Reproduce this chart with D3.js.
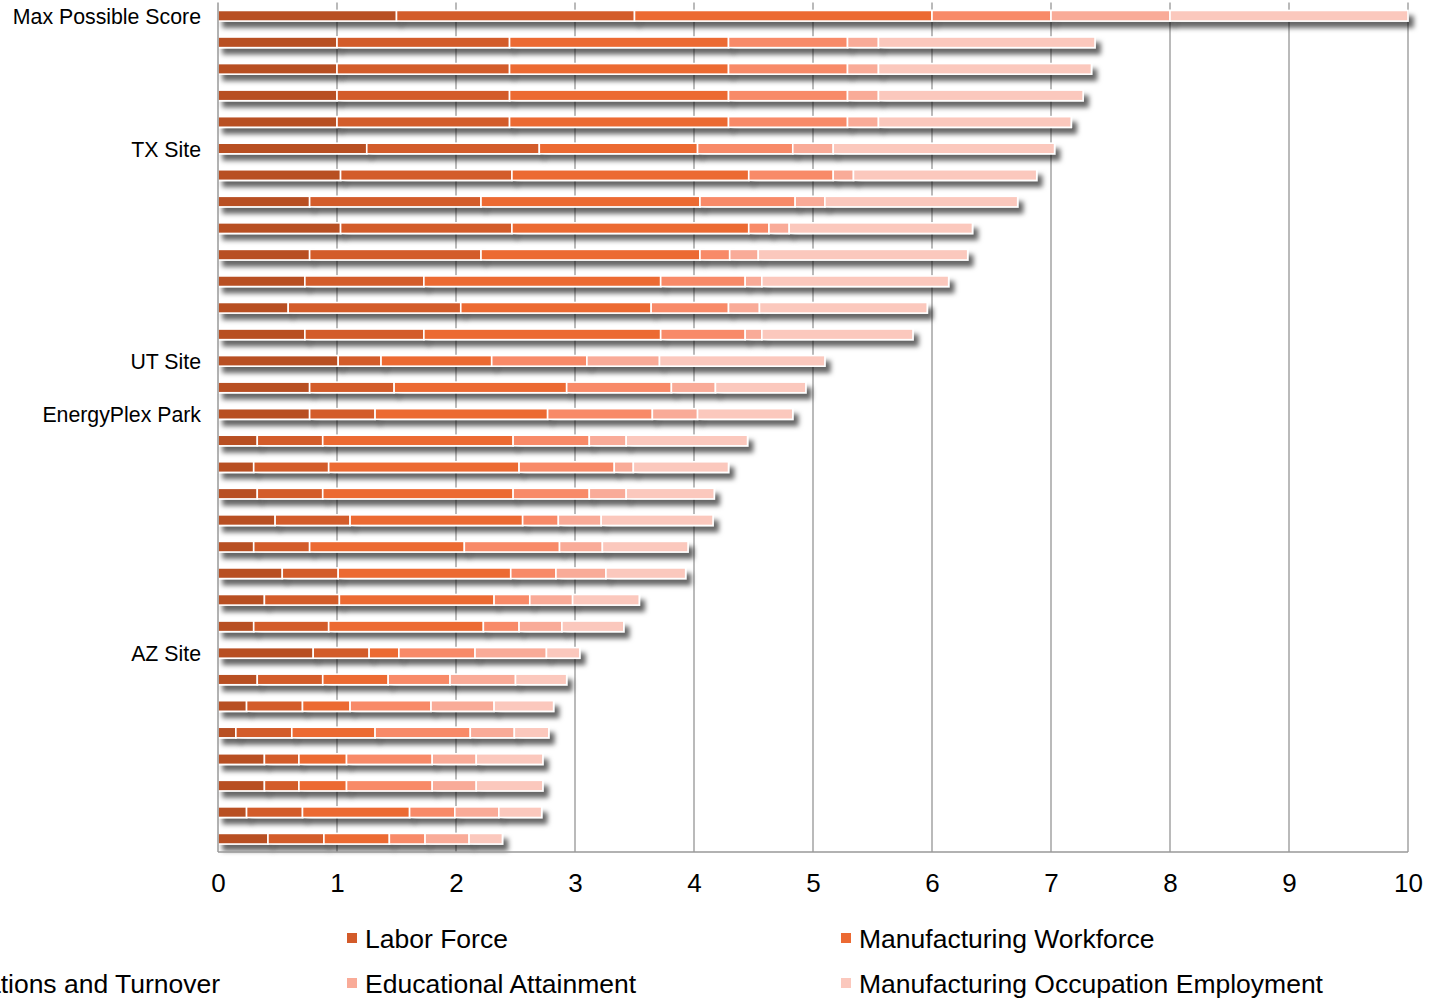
<!DOCTYPE html>
<html>
<head>
<meta charset="utf-8">
<script src="https://cdn.jsdelivr.net/npm/d3@7"></script>
<style>
  html, body { margin: 0; padding: 0; background: #fff; }
  svg { display: block; font-family: "Liberation Sans", Arial, Helvetica, sans-serif; }
</style>
</head>
<body>
<svg id="chart" width="1438" height="998"></svg>
<script>
// Site scores, one row per candidate site (top row is the maximum attainable score)
const categories = [
  "Max Possible Score", "", "", "", "", "TX Site", "", "", "", "", "", "", "",
  "UT Site", "", "EnergyPlex Park", "", "", "", "", "", "", "", "",
  "AZ Site", "", "", "", "", "", "", ""
];

const seriesNames = [
  "Wages",
  "Labor Force",
  "Manufacturing Workforce",
  "Labor Relations and Turnover",
  "Educational Attainment",
  "Manufacturing Occupation Employment"
];

const wages = [1.5, 1.0, 1.0, 1.0, 1.0, 1.25, 1.03, 0.77, 1.03, 0.77, 0.73, 0.59, 0.73, 1.01, 0.77, 0.77,
  0.33, 0.30, 0.33, 0.48, 0.30, 0.54, 0.39, 0.30, 0.80, 0.33, 0.24, 0.15, 0.39, 0.39, 0.24, 0.42];
const laborForce = [2.0, 1.45, 1.45, 1.45, 1.45, 1.45, 1.44, 1.44, 1.44, 1.44, 1.00, 1.45, 1.00, 0.36, 0.71, 0.55,
  0.55, 0.63, 0.55, 0.63, 0.47, 0.47, 0.63, 0.63, 0.47, 0.55, 0.47, 0.47, 0.29, 0.29, 0.47, 0.47];
const mfgWorkforce = [2.5, 1.84, 1.84, 1.84, 1.84, 1.33, 1.99, 1.84, 1.99, 1.84, 1.99, 1.60, 1.99, 0.93, 1.45, 1.45,
  1.60, 1.60, 1.60, 1.45, 1.30, 1.45, 1.30, 1.30, 0.25, 0.55, 0.40, 0.70, 0.40, 0.40, 0.90, 0.55];
const laborRelations = [1.0, 1.0, 1.0, 1.0, 1.0, 0.80, 0.71, 0.80, 0.17, 0.25, 0.71, 0.65, 0.71, 0.80, 0.88, 0.88,
  0.64, 0.80, 0.64, 0.30, 0.80, 0.38, 0.30, 0.30, 0.64, 0.52, 0.68, 0.80, 0.72, 0.72, 0.38, 0.30];
const education = [1.0, 0.26, 0.26, 0.26, 0.26, 0.34, 0.17, 0.25, 0.17, 0.24, 0.14, 0.26, 0.14, 0.61, 0.37, 0.38,
  0.31, 0.16, 0.31, 0.36, 0.36, 0.42, 0.36, 0.36, 0.60, 0.55, 0.53, 0.37, 0.37, 0.37, 0.37, 0.37];
const mfgOccupation = [2.0, 1.82, 1.79, 1.72, 1.62, 1.86, 1.54, 1.62, 1.54, 1.76, 1.57, 1.41, 1.27, 1.39, 0.76, 0.80,
  1.02, 0.80, 0.74, 0.94, 0.72, 0.67, 0.56, 0.52, 0.28, 0.43, 0.50, 0.29, 0.56, 0.56, 0.36, 0.28];

const xTicks = [0, 1, 2, 3, 4, 5, 6, 7, 8, 9, 10];

const colors = ["#b84f24", "#d35b2a", "#ec6a33", "#f88a68", "#f9ab98", "#fbc8bd"];

// Build the row table for the stack layout
const seriesValues = [wages, laborForce, mfgWorkforce, laborRelations, education, mfgOccupation];
const table = categories.map((c, i) => {
  const row = { idx: i, label: c };
  seriesNames.forEach((s, k) => { row[s] = seriesValues[k][i]; });
  return row;
});
const stacked = d3.stack().keys(seriesNames)(table);

const svg = d3.select("#chart");
const plot = { left: 218, right: 1408, top: 2.5, bottom: 852 };

const x = d3.scaleLinear().domain([0, 10]).range([plot.left, plot.right]);
const y = d3.scaleBand()
  .domain(d3.range(categories.length))
  .range([plot.top, plot.bottom])
  .paddingInner(0.6)
  .paddingOuter(0.3);

// Soft drop shadow under each bar segment
const defs = svg.append("defs");
const f = defs.append("filter")
  .attr("id", "barShadow")
  .attr("filterUnits", "userSpaceOnUse")
  .attr("x", 0).attr("y", 0).attr("width", 1438).attr("height", 998);
f.append("feDropShadow")
  .attr("dx", 5).attr("dy", 6)
  .attr("stdDeviation", 2.4)
  .attr("flood-color", "#000")
  .attr("flood-opacity", 0.6);

// Vertical gridlines
svg.append("g")
  .selectAll("line")
  .data(xTicks.filter(t => t > 0))
  .join("line")
  .attr("x1", d => x(d)).attr("x2", d => x(d))
  .attr("y1", plot.top).attr("y2", plot.bottom)
  .attr("stroke", "#8c8c8c")
  .attr("stroke-width", 1.2);

// Stacked bars
svg.append("g")
  .selectAll("g")
  .data(stacked)
  .join("g")
  .attr("fill", (d, i) => colors[i])
  .selectAll("rect")
  .data(d => d)
  .join("rect")
  .attr("x", d => x(d[0]))
  .attr("y", d => y(d.data.idx))
  .attr("width", d => x(d[1]) - x(d[0]))
  .attr("height", y.bandwidth())
  .attr("stroke", "#fff")
  .attr("stroke-width", 1.6)
  .attr("filter", "url(#barShadow)");

// Axis lines
svg.append("line")
  .attr("x1", plot.left).attr("x2", plot.left)
  .attr("y1", plot.top).attr("y2", plot.bottom)
  .attr("stroke", "#999").attr("stroke-width", 1.5);
svg.append("line")
  .attr("x1", plot.left).attr("x2", plot.right)
  .attr("y1", plot.bottom).attr("y2", plot.bottom)
  .attr("stroke", "#999").attr("stroke-width", 1.5);

// Category axis
const yAxis = svg.append("g")
  .attr("transform", `translate(${plot.left},0)`)
  .call(d3.axisLeft(y).tickSize(0).tickPadding(17).tickFormat(i => categories[i]));
yAxis.select(".domain").remove();
yAxis.selectAll("text")
  .attr("fill", "#000")
  .attr("dy", "0.38em")
  .style("font-size", "21.3px")
  .style("font-family", "'Liberation Sans', Arial, sans-serif");

// Value axis
const xAxis = svg.append("g")
  .attr("transform", `translate(0,${plot.bottom})`)
  .call(d3.axisBottom(x).tickValues(xTicks).tickSize(0).tickPadding(22).tickFormat(d3.format("d")));
xAxis.select(".domain").remove();
xAxis.selectAll("text")
  .attr("fill", "#000")
  .style("font-size", "26px")
  .style("font-family", "'Liberation Sans', Arial, sans-serif");

// Legend: three columns, two rows
const legendCols = [-147, 347, 841];
const legendRows = [938, 983];
const legend = svg.append("g")
  .selectAll("g")
  .data(seriesNames)
  .join("g")
  .attr("transform", (d, i) => `translate(${legendCols[i % 3]},${legendRows[Math.floor(i / 3)]})`);
legend.append("rect")
  .attr("x", 0).attr("y", -5)
  .attr("width", 10).attr("height", 10)
  .attr("fill", (d, i) => colors[i]);
legend.append("text")
  .attr("x", 18).attr("y", 0).attr("dy", "0.36em")
  .attr("fill", "#000")
  .style("font-size", "26.5px")
  .text(d => d);
</script>
</body>
</html>
